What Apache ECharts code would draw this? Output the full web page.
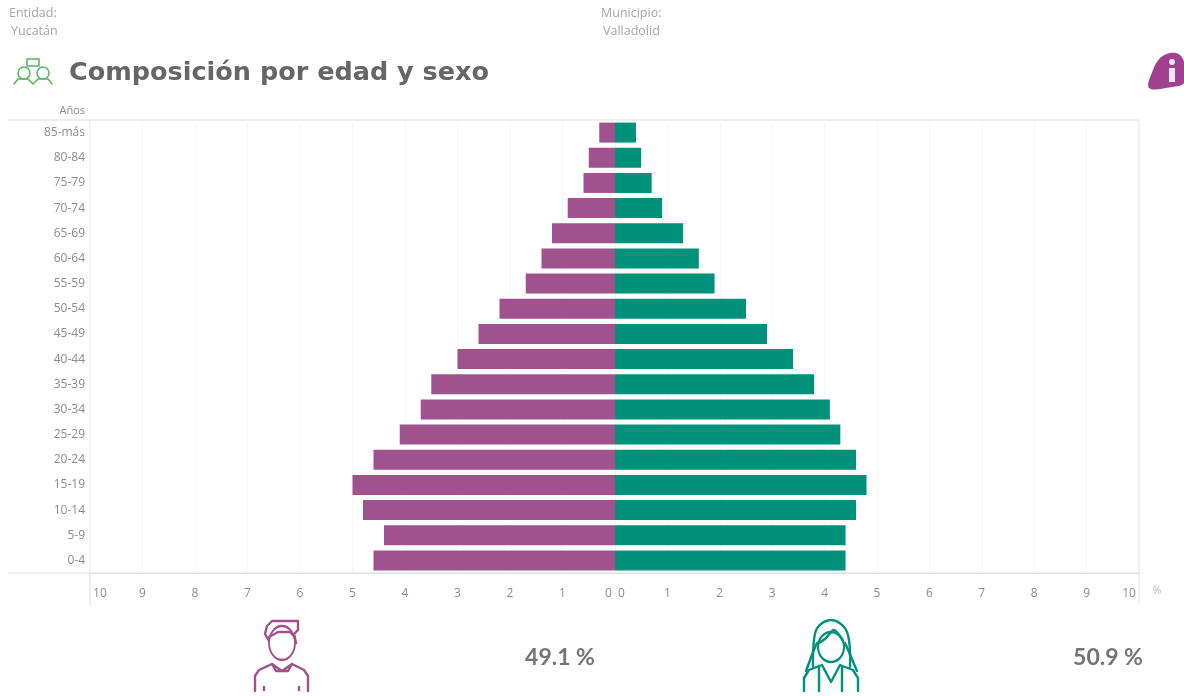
<!DOCTYPE html>
<html><head><meta charset="utf-8">
<style>html,body{margin:0;padding:0;background:#fff}#c{width:1184px;height:696px}</style>
<script src="https://cdn.jsdelivr.net/npm/echarts@6/dist/echarts.min.js"></script>
</head><body><div id="c"></div>
<script>
const categories = ['85-más','80-84','75-79','70-74','65-69','60-64','55-59','50-54','45-49','40-44','35-39','30-34','25-29','20-24','15-19','10-14','5-9','0-4'];
const hombres = [0.3,0.5,0.6,0.9,1.2,1.4,1.7,2.2,2.6,3.0,3.5,3.7,4.1,4.6,5.0,4.8,4.4,4.6];
const mujeres = [0.4,0.5,0.7,0.9,1.3,1.6,1.9,2.5,2.9,3.4,3.8,4.1,4.3,4.6,4.8,4.6,4.4,4.4];
const PURPLE = '#a0528f', TEAL = '#00917b', GRID = '#f6f6f6', AXIS = '#dedede', LABEL = '#8c8c8c';
const font = '"Open Sans", sans-serif';

function xAxis(idx, inverse, minAlign, maxAlign, fmt){
  return {type:'value', gridIndex:idx, min:0, max:10, interval:1, inverse,
    axisLine:{show:true, lineStyle:{color:AXIS}}, axisTick:{show:false},
    splitLine:{show:true, lineStyle:{color:GRID, width:1}},
    axisLabel:{color:LABEL, fontFamily:font, fontSize:12, margin:15, showMinLabel:true, showMaxLabel:true,
      alignMinLabel:minAlign, alignMaxLabel:maxAlign, formatter:fmt}};
}
function stroke(color, w){ return {stroke:color, fill:'none', lineWidth:w, lineCap:'round', lineJoin:'round'}; }
function pathEl(d, color, w, smooth){
  return {type:'polyline', silent:true, shape:{points:d, smooth:smooth||0}, style:stroke(color,w)};
}
function line(x1,y1,x2,y2,color,w){ return {type:'line', silent:true, shape:{x1,y1,x2,y2}, style:{stroke:color, lineWidth:w||1}}; }
function ell(cx,cy,rx,ry,color,w){ return {type:'circle', silent:true, x:cx, y:cy, scaleX:rx/ry, shape:{cx:0,cy:0,r:ry}, style:stroke(color,w)}; }
function txt(x,y,t,size,color,align,weight,fam){
  return {type:'text', silent:true, x, y, style:{text:t, fontSize:size, fill:color, align:align, verticalAlign:'middle', fontWeight:weight||'normal', fontFamily:fam||font}};
}
const G = '#55b560';
const graphics = [
  line(8,120,1139,120,AXIS), line(8,573,1139,573,AXIS), line(90,120,90,606,AXIS), line(1139,120,1139,603,AXIS),
  txt(9,13,'Entidad:',12.5,'#a5a5a5','left'), txt(11,31,'Yucatán',12.5,'#a5a5a5','left'),
  txt(601,13,'Municipio:',12.5,'#a5a5a5','left'), txt(603,31,'Valladolid',12.5,'#a5a5a5','left'),
  txt(69,73,'Composición por edad y sexo',25.5,'#666666','left','bold','"DejaVu Sans"'),
  txt(85,111,'Años',11,LABEL,'right'), txt(1157,591,'%',10.5,'#b5b5b5','center'),
  txt(560,658,'49.1 %',23,'#757575','center','bold','Lato'),
  txt(1108,658,'50.9 %',23,'#757575','center','bold','Lato'),
  // group icon
  ell(24,73,6,6,G,1.5), ell(43,73,6,6,G,1.5), {type:'rect',silent:true,shape:{x:27,y:59,width:12,height:7},style:stroke(G,1.5)},
  pathEl([[14,84],[18,79],[28,79],[33,84],[38,79],[48,79],[52,84]],G,1.5),
  // info icon
  {type:'polygon',silent:true,shape:{smooth:0.35,points:[[1149,88],[1153,70],[1160,58],[1170,53],[1180,55],[1185,66],[1184,83],[1172,87]]},style:{fill:'#a0408f'}},
  {type:'rect',silent:true,shape:{x:1169,y:68,width:6,height:14},style:{fill:'#f5e6f2'}},
  {type:'circle',silent:true,shape:{cx:1172,cy:62,r:3},style:{fill:'#f5e6f2'}},
  // male icon
  ell(282,643,13,17,PURPLE,2.4),
  pathEl([[269,641],[265,634],[267,626],[272,621],[298,621],[298,630],[294,634],[296,643]],PURPLE,2.4),
  pathEl([[269,637],[278,632],[290,632],[295,637]],PURPLE,2.4),
  pathEl([[255,691],[255,676],[259,670],[272,664],[282,671],[292,664],[304,670],[308,676],[308,691]],PURPLE,2.4),
  pathEl([[272,664],[276,671],[282,671],[288,671],[292,664]],PURPLE,2.4),
  line(264,686,264,691,PURPLE,2.4), line(299,686,299,691,PURPLE,2.4),
  // female icon
  ell(831,647,13,15,TEAL,2.4),
  pathEl([[813,667],[814,640],[818,627],[831,620],[844,627],[849,640],[850,667]],TEAL,2.4,0.4),
  pathEl([[819,643],[826,638],[834,630],[843,641]],TEAL,2.4,0.3),
  pathEl([[806,671],[813,652],[817,643]],TEAL,2.4), pathEl([[857,671],[849,652],[845,643]],TEAL,2.4),
  pathEl([[804,691],[804,678],[809,670],[822,665],[831,682],[840,665],[853,670],[858,678],[858,691]],TEAL,2.4),
  pathEl([[819,666],[819,691]],TEAL,2.4), pathEl([[842,666],[842,691]],TEAL,2.4)
];
const chart = echarts.init(document.getElementById('c'), null, {renderer:'canvas'});
chart.setOption({
  animation:false, backgroundColor:'#fff',
  grid:[{left:90,right:569,top:120,height:453},{left:615,right:45,top:120,height:453}],
  xAxis:[
    xAxis(0,true,'right','left', v => v===0 ? '0 ' : v===10 ? ' 10' : String(v)),
    xAxis(1,false,'left','right', v => v===0 ? ' 0' : v===10 ? '10 ' : String(v))
  ],
  yAxis:[
    {type:'category', gridIndex:0, data:categories, inverse:true, position:'left',
     axisLine:{show:false}, axisTick:{show:false},
     axisLabel:{color:LABEL, fontFamily:font, fontSize:12, margin:5, interval:0, padding:[5,0,0,0]}},
    {type:'category', gridIndex:1, data:categories, inverse:true, position:'left',
     axisLine:{show:false}, axisTick:{show:false}, axisLabel:{show:false}}
  ],
  series:[
    {type:'bar', name:'Hombres', xAxisIndex:0, yAxisIndex:0, data:hombres, barWidth:20, itemStyle:{color:PURPLE}},
    {type:'bar', name:'Mujeres', xAxisIndex:1, yAxisIndex:1, data:mujeres, barWidth:20, itemStyle:{color:TEAL}}
  ],
  graphic:{elements:graphics}
});
</script></body></html>
